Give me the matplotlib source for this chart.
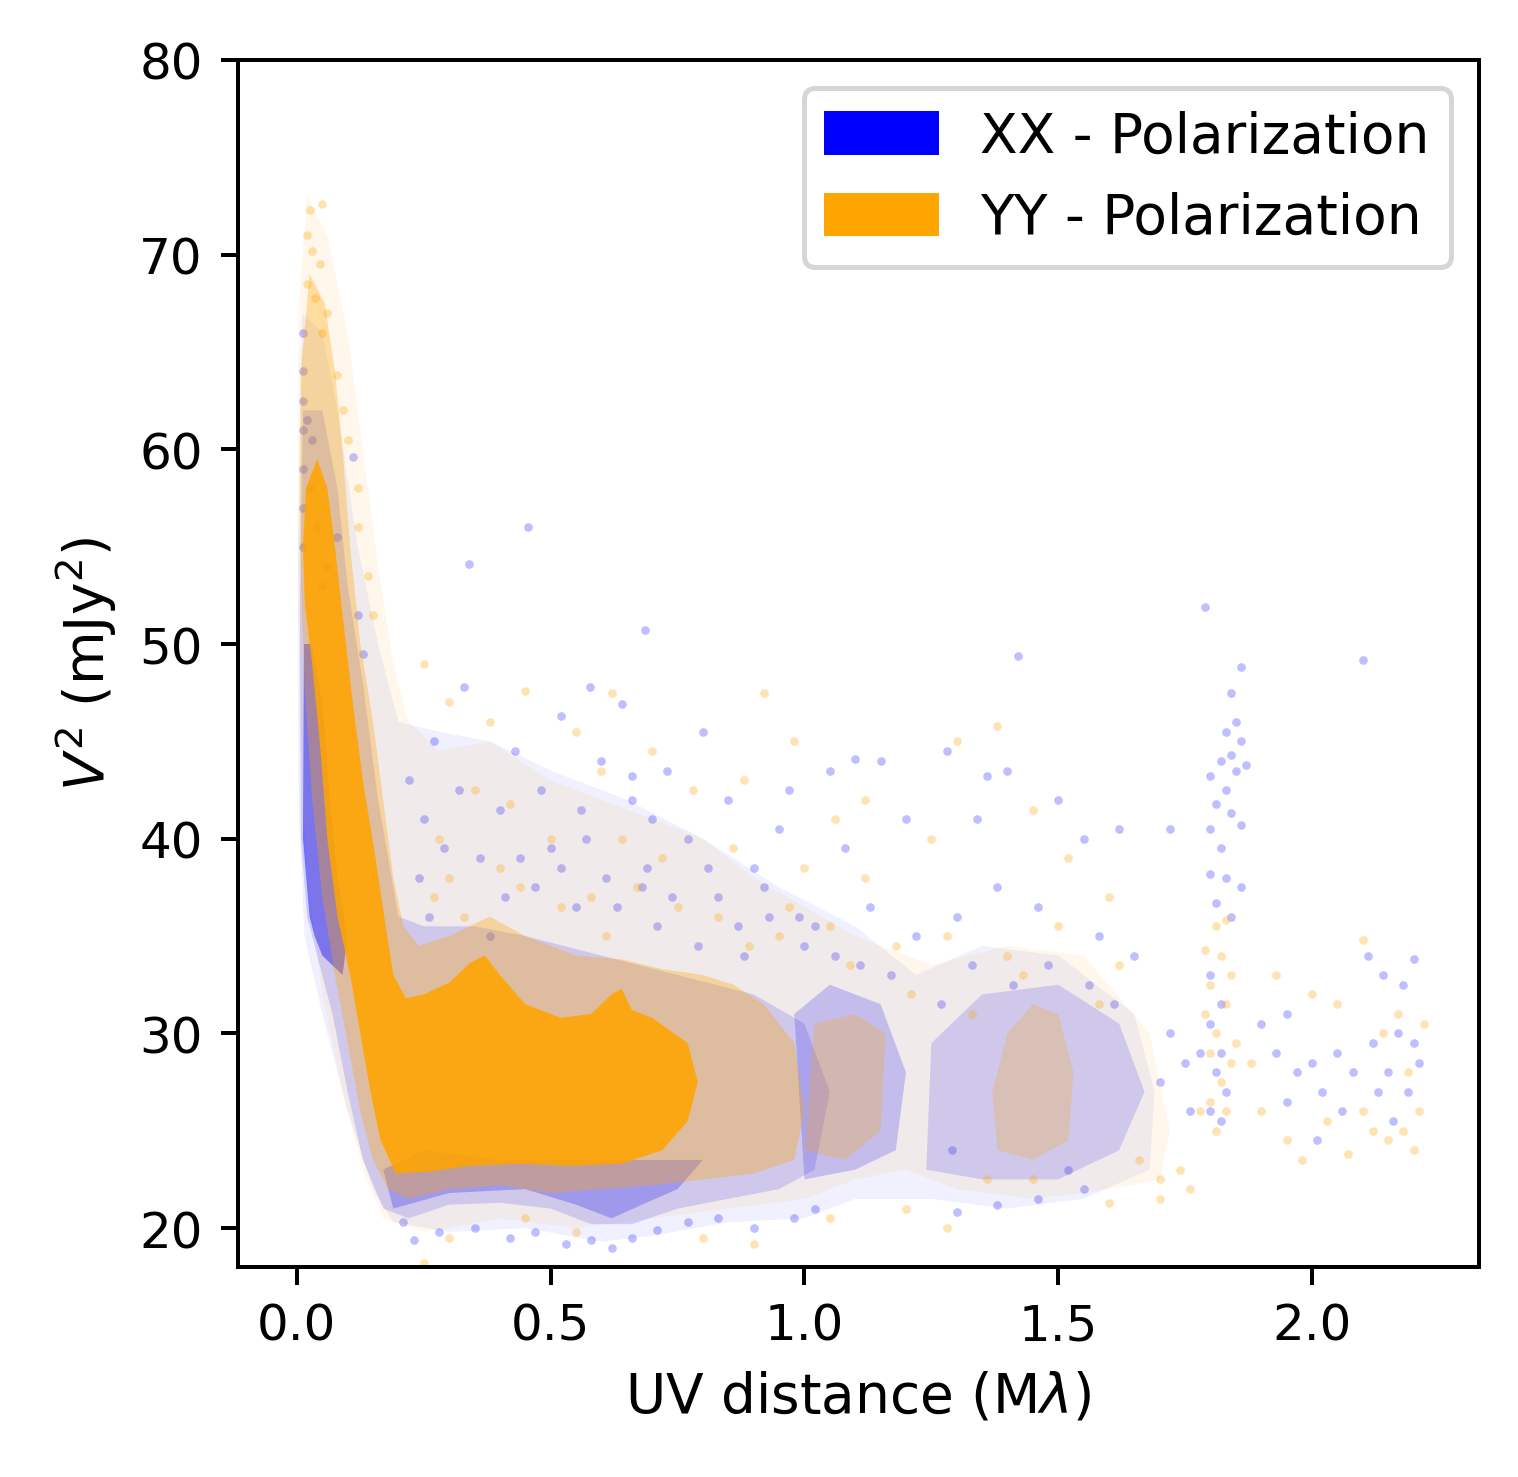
import matplotlib
matplotlib.use('Agg')
import matplotlib.pyplot as plt
import matplotlib.patches as mpatches
import numpy as np

# density outlines of the point clouds (x in M-lambda, y in mJy^2)
# XX polarization (blue)
xx_halo_x = [0.01, 0.002, 0.003, 0.015, 0.05, 0.10, 0.15, 0.19, 0.30, 0.45, 0.60, 0.70, 0.85, 1.00, 1.10, 1.25, 1.40,
             1.55, 1.68, 1.69, 1.65, 1.50, 1.35, 1.22, 1.10, 0.95, 0.80, 0.65, 0.50, 0.38, 0.28, 0.20, 0.16, 0.12, 0.08, 0.05]
xx_halo_y = [67, 55, 42, 35, 31, 26, 22, 20.3, 19.8, 20.0, 19.3, 19.6, 20.3, 20.5, 21.5, 21.5, 21.0,
             21.5, 23, 27, 31, 34, 34.5, 33.0, 35.5, 37.5, 40, 42, 43.5, 45, 45.5, 46, 50, 55, 62, 66]
xx_mid_x = [0.012, 0.006, 0.008, 0.02, 0.04, 0.07, 0.10, 0.13, 0.17, 0.22, 0.30, 0.40, 0.50, 0.58, 0.66, 0.75, 0.85,
            0.95, 1.02, 1.05, 1.00, 0.90, 0.75, 0.60, 0.45, 0.35, 0.25, 0.20, 0.16, 0.13, 0.10, 0.08, 0.05]
xx_mid_y = [62, 52, 40, 36, 34, 31, 27, 23.5, 21.0, 20.5, 21.2, 21.3, 21.0, 20.2, 20.2, 21.0, 21.5,
            22.0, 23, 27, 30.5, 32.0, 33.0, 34, 35, 35.5, 35.5, 36, 42, 48, 53, 58, 62]
xx_strip_x = [0.014, 0.012, 0.025, 0.035, 0.05, 0.07, 0.09, 0.10, 0.08, 0.065, 0.05, 0.03]
xx_strip_y = [50, 40, 36, 35, 34, 33.5, 33, 35, 38, 42, 47, 50]
xx_floor_x = [0.17, 0.19, 0.30, 0.45, 0.55, 0.62, 0.68, 0.75, 0.80, 0.60, 0.40, 0.25]
xx_floor_y = [23, 21, 21.8, 22.0, 21.2, 20.5, 21.2, 22.0, 23.5, 23.5, 23.5, 24]
xx_c2_x = [1.24, 1.35, 1.50, 1.62, 1.67, 1.62, 1.50, 1.35, 1.25]
xx_c2_y = [23, 22.5, 22.5, 24, 27, 30.5, 32.5, 32.0, 29.5]
xx_c1_x = [1.00, 1.10, 1.18, 1.20, 1.15, 1.05, 0.98]
xx_c1_y = [22.5, 23, 24, 28, 31.5, 32.5, 31]

# YY polarization (orange)
yy_halo_x = [0.02, 0.003, 0.002, 0.005, 0.02, 0.05, 0.09, 0.13, 0.17, 0.25, 0.40, 0.55, 0.70, 0.85, 1.00, 1.10, 1.20,
             1.30, 1.45, 1.60, 1.70, 1.72, 1.68, 1.55, 1.40, 1.25, 1.10, 1.00, 0.90, 0.80, 0.65, 0.50, 0.38, 0.28,
             0.22, 0.19, 0.16, 0.13, 0.10, 0.06]
yy_halo_y = [73.0, 67.0, 55.0, 46.0, 38.0, 32.0, 27.0, 23.0, 20.5, 19.8, 20.5, 20.0, 20.5, 21.0, 21.5, 22.5, 23.0,
             22.0, 21.5, 22.0, 22.5, 25.0, 30.0, 34.0, 34.5, 33.5, 35.0, 36.5, 38.0, 40.0, 41.5, 43.0, 45.0, 44.5,
             46.0, 49.0, 54.0, 60.0, 66.0, 71.0]
yy_mid_x = [0.025, 0.008, 0.006, 0.015, 0.030, 0.050, 0.075, 0.10, 0.125, 0.15, 0.18, 0.22, 0.30, 0.40, 0.50, 0.60,
            0.70, 0.80, 0.90, 0.98, 1.00, 0.98, 0.92, 0.86, 0.80, 0.72, 0.64, 0.55, 0.45, 0.38, 0.30, 0.24, 0.21,
            0.19, 0.17, 0.15, 0.125, 0.105, 0.09, 0.075, 0.055]
yy_mid_y = [69.0, 64.0, 55.0, 48.0, 42.0, 37.0, 33.0, 29.5, 26.0, 23.5, 22.0, 21.5, 22.0, 22.2, 21.8, 22.0,
            22.2, 22.5, 22.8, 23.5, 26.0, 29.5, 31.5, 32.5, 33.0, 33.3, 33.8, 34.0, 35.0, 36.0, 35.0, 34.5, 35.5,
            38.0, 42.0, 46.0, 50.0, 55.0, 60.0, 64.0, 67.5]
yy_core_x = [0.018, 0.012, 0.016, 0.030, 0.045, 0.060, 0.080, 0.105, 0.125, 0.145, 0.165, 0.195, 0.26, 0.34, 0.44,
             0.54, 0.64, 0.72, 0.77, 0.79, 0.77, 0.70, 0.66, 0.64, 0.62, 0.58, 0.52, 0.45, 0.40, 0.37, 0.34, 0.30,
             0.25, 0.215, 0.19, 0.175, 0.155, 0.13, 0.11, 0.09, 0.075, 0.06, 0.04]
yy_core_y = [58.0, 55.0, 52.0, 49.0, 45.0, 40.0, 36.0, 33.0, 30.0, 27.0, 24.5, 22.8, 22.9, 23.2, 23.3,
             23.2, 23.3, 24.0, 25.5, 27.5, 29.5, 30.8, 31.2, 32.3, 32.0, 31.0, 30.8, 31.5, 33.0, 34.0, 33.6, 32.6,
             32.0, 31.8, 33.0, 35.5, 39.0, 43.0, 47.0, 51.5, 55.0, 58.0, 59.5]
yy_c1_x = [1.00, 1.08, 1.15, 1.16, 1.10, 1.02]
yy_c1_y = [24.0, 23.5, 25.0, 30.0, 31.0, 30.5]
yy_c2_x = [1.38, 1.45, 1.52, 1.53, 1.50, 1.45, 1.40, 1.37]
yy_c2_y = [24, 23.5, 24.5, 28, 31, 31.5, 30, 27]

# scattered single points
xx_pts_x = [0.455, 0.34, 0.686, 0.577, 0.64, 0.52, 0.33, 0.27, 0.43, 0.60, 0.66, 0.66, 0.73, 0.80, 0.85, 0.97, 1.05,
            1.10, 1.15, 1.28, 1.36, 1.40, 1.42, 1.55, 1.50, 1.62, 1.72, 1.34, 1.20, 1.08, 0.95, 0.90, 0.77, 0.70,
            0.56, 0.48, 0.40, 0.32, 0.25, 0.22, 0.44, 0.52, 0.61, 0.68, 0.83, 0.93, 1.02, 1.13, 1.22, 1.30, 1.38,
            1.46, 1.58, 1.65, 1.72, 1.75, 1.76, 1.70, 1.78,
            1.79, 1.86, 1.84, 1.85, 1.83, 1.86, 1.84, 1.82, 1.85, 1.87, 1.80, 1.83, 1.81, 1.84, 1.80, 1.86, 1.82,
            1.80, 1.83, 1.86, 1.81, 1.84,
            1.80, 1.82, 1.80, 1.82, 1.81, 1.83, 1.80, 1.82, 1.90, 1.93, 1.97, 1.95, 2.00, 2.02, 2.05, 2.08, 2.06,
            2.12, 2.13, 2.15, 2.17, 2.18, 2.20, 2.21, 2.19, 2.16, 2.11, 2.14, 2.20, 2.10, 1.95, 2.01,
            0.21, 0.23, 0.28, 0.35, 0.42, 0.47, 0.53, 0.58, 0.62, 0.66, 0.71, 0.77, 0.83, 0.90, 0.98, 1.02, 1.30,
            1.38, 1.46, 1.55,
            0.012, 0.013, 0.012, 0.012, 0.02, 0.03, 0.012, 0.025, 0.012, 0.04, 0.012, 0.05, 0.11, 0.08, 0.06,
            0.12, 0.13,
            0.24, 0.29, 0.36, 0.41, 0.50, 0.57, 0.63, 0.69, 0.74, 0.81, 0.87, 0.92, 0.99, 1.06, 1.11, 1.17,
            0.26, 0.38, 0.47, 0.55, 0.71, 0.79, 0.88, 1.00, 1.27, 1.33, 1.41, 1.48, 1.56, 1.61, 1.29, 1.52]
xx_pts_y = [56.0, 54.1, 50.7, 47.8, 46.9, 46.3, 47.8, 45.0, 44.5, 44.0, 43.2, 42.0, 43.5, 45.5, 42.0, 42.5, 43.5,
            44.1, 44.0, 44.5, 43.2, 43.5, 49.4, 40.0, 42.0, 40.5, 40.5, 41.0, 41.0, 39.5, 40.5, 38.5, 40.0, 41.0,
            41.5, 42.5, 41.5, 42.5, 41.0, 43.0, 39.0, 38.5, 38.0, 37.5, 37.0, 36.0, 35.5, 36.5, 35.0, 36.0, 37.5,
            36.5, 35.0, 34.0, 30.0, 28.5, 26.0, 27.5, 29.0,
            51.9, 48.8, 47.5, 46.0, 45.5, 45.0, 44.3, 44.0, 43.5, 43.8, 43.2, 42.5, 41.8, 41.3, 40.5, 40.7, 39.5,
            38.2, 38.0, 37.5, 36.7, 36.0,
            33.0, 31.5, 30.5, 29.0, 28.0, 27.0, 26.0, 25.5, 30.5, 29.0, 28.0, 26.5, 28.5, 27.0, 29.0, 28.0, 26.0,
            29.5, 27.0, 28.0, 30.0, 32.5, 29.5, 28.5, 27.0, 25.5, 34.0, 33.0, 33.8, 49.2, 31.0, 24.5,
            20.3, 19.4, 19.8, 20.0, 19.5, 19.8, 19.2, 19.4, 19.0, 19.5, 19.9, 20.3, 20.5, 20.0, 20.5, 21.0, 20.8,
            21.2, 21.5, 22.0,
            66, 64, 62.5, 61, 61.5, 60.5, 59, 58, 57, 56, 55, 53, 59.6, 55.5, 54, 51.5, 49.5,
            38.0, 39.5, 39.0, 37.0, 39.5, 40.0, 36.5, 38.5, 37.0, 38.5, 35.5, 37.5, 36.0, 34.0, 33.5, 33.0,
            36.0, 35.0, 37.5, 36.5, 35.5, 34.5, 34.0, 34.5, 31.5, 33.5, 32.5, 33.5, 32.5, 31.5, 24.0, 23.0]

yy_pts_x = [0.025, 0.05, 0.02, 0.03, 0.045, 0.02, 0.035, 0.06, 0.05, 0.08, 0.09, 0.10, 0.12, 0.12, 0.14, 0.15,
            0.25, 0.30, 0.38, 0.45, 0.55, 0.60, 0.62, 0.70, 0.78, 0.88, 0.92, 0.98, 1.06, 1.12, 1.25, 1.30, 1.38,
            1.45, 1.52, 1.60, 1.12, 1.00, 0.86, 0.72, 0.64, 0.50, 0.42, 0.35, 0.28, 0.30, 0.40, 0.58, 0.75, 0.95,
            1.05, 1.18, 1.28, 1.40, 1.50, 1.62,
            1.79, 1.81, 1.83, 1.82, 1.80, 1.84, 1.79, 1.83, 1.81, 1.80, 1.84, 1.82, 1.80, 1.83, 1.81, 1.78, 1.85,
            1.76, 1.74, 1.70,
            1.90, 1.95, 1.98, 2.03, 2.07, 2.10, 2.12, 2.15, 2.18, 2.20, 2.21, 2.19, 2.14, 2.10, 2.17, 2.22, 2.05,
            2.00, 1.93, 1.88,
            0.25, 0.30, 0.45, 0.55, 0.80, 0.90, 1.05, 1.20, 1.28, 1.60, 1.70, 1.45,
            0.27, 0.33, 0.44, 0.52, 0.61, 0.67, 0.83, 0.89, 0.97, 1.09, 1.21, 1.33, 1.43, 1.58, 1.66, 1.36]
yy_pts_y = [72.3, 72.6, 71.0, 70.2, 69.5, 68.5, 67.8, 67.0, 66.0, 63.8, 62.0, 60.5, 58.0, 56.0, 53.5, 51.5,
            49.0, 47.0, 46.0, 47.6, 45.5, 43.5, 47.5, 44.5, 42.5, 43.0, 47.5, 45.0, 41.0, 42.0, 40.0, 45.0, 45.8,
            41.5, 39.0, 37.0, 38.0, 38.5, 39.5, 39.0, 40.0, 40.0, 41.8, 42.5, 40.0, 38.0, 38.5, 37.0, 36.5, 35.0,
            35.5, 34.5, 35.0, 34.0, 35.5, 33.5,
            34.3, 35.5, 35.8, 34.0, 32.5, 33.0, 31.0, 31.5, 30.0, 29.0, 28.5, 27.5, 26.5, 26.0, 25.0, 26.0, 29.5,
            22.0, 23.0, 22.5,
            26, 24.5, 23.5, 25.5, 23.8, 26, 25, 24.5, 25.0, 24.0, 26.0, 28.0, 30.0, 34.8, 31.0, 30.5, 31.5,
            32, 33.0, 28.5,
            18.2, 19.5, 20.5, 19.8, 19.5, 19.2, 20.5, 21.0, 20.0, 21.3, 21.5, 22.5,
            37.0, 36.0, 37.5, 36.5, 35.0, 37.5, 36.0, 34.5, 36.5, 33.5, 32.0, 31.0, 33.0, 31.5, 23.5, 22.5]

fig = plt.figure(figsize=(1519 / 360, 1478 / 360), dpi=360)
ax = fig.add_axes([238 / 1519, 1 - 1268 / 1478, (1479 - 238) / 1519, (1268 - 61) / 1478])

# XX first, YY drawn on top
ax.fill(xx_halo_x, xx_halo_y, color='blue', alpha=0.06, lw=0)
ax.fill(xx_mid_x, xx_mid_y, color='blue', alpha=0.15, lw=0)
ax.fill(xx_strip_x, xx_strip_y, color='blue', alpha=0.45, lw=0)
ax.fill(xx_floor_x, xx_floor_y, color='blue', alpha=0.25, lw=0)
ax.fill(xx_c2_x, xx_c2_y, color='blue', alpha=0.15, lw=0)
ax.fill(xx_c1_x, xx_c1_y, color='blue', alpha=0.2, lw=0)
ax.scatter(xx_pts_x, xx_pts_y, s=3, color='blue', alpha=0.25, linewidths=0)

ax.fill(yy_halo_x, yy_halo_y, color='orange', alpha=0.08, lw=0)
ax.fill(yy_mid_x, yy_mid_y, color='orange', alpha=0.32, lw=0)
ax.fill(yy_core_x, yy_core_y, color='orange', alpha=0.88, lw=0)
ax.fill(yy_c1_x, yy_c1_y, color='orange', alpha=0.25, lw=0)
ax.fill(yy_c2_x, yy_c2_y, color='orange', alpha=0.22, lw=0)
ax.scatter(yy_pts_x, yy_pts_y, s=3, color='orange', alpha=0.3, linewidths=0)

ax.set_xlim(-0.116, 2.329)
ax.set_ylim(18, 80)
ax.set_xticks([0.0, 0.5, 1.0, 1.5, 2.0])
ax.set_yticks([20, 30, 40, 50, 60, 70, 80])
ax.set_xlabel('UV distance (M$\\lambda$)', fontsize=11)
ax.set_ylabel('$V^2$ (mJy$^2$)', fontsize=11)

blue_patch = mpatches.Patch(color='blue', label='XX - Polarization')
orange_patch = mpatches.Patch(color='orange', label='YY - Polarization')
ax.legend(handles=[blue_patch, orange_patch], loc='upper right', fontsize=11)

fig.savefig('out.png', dpi=360)
